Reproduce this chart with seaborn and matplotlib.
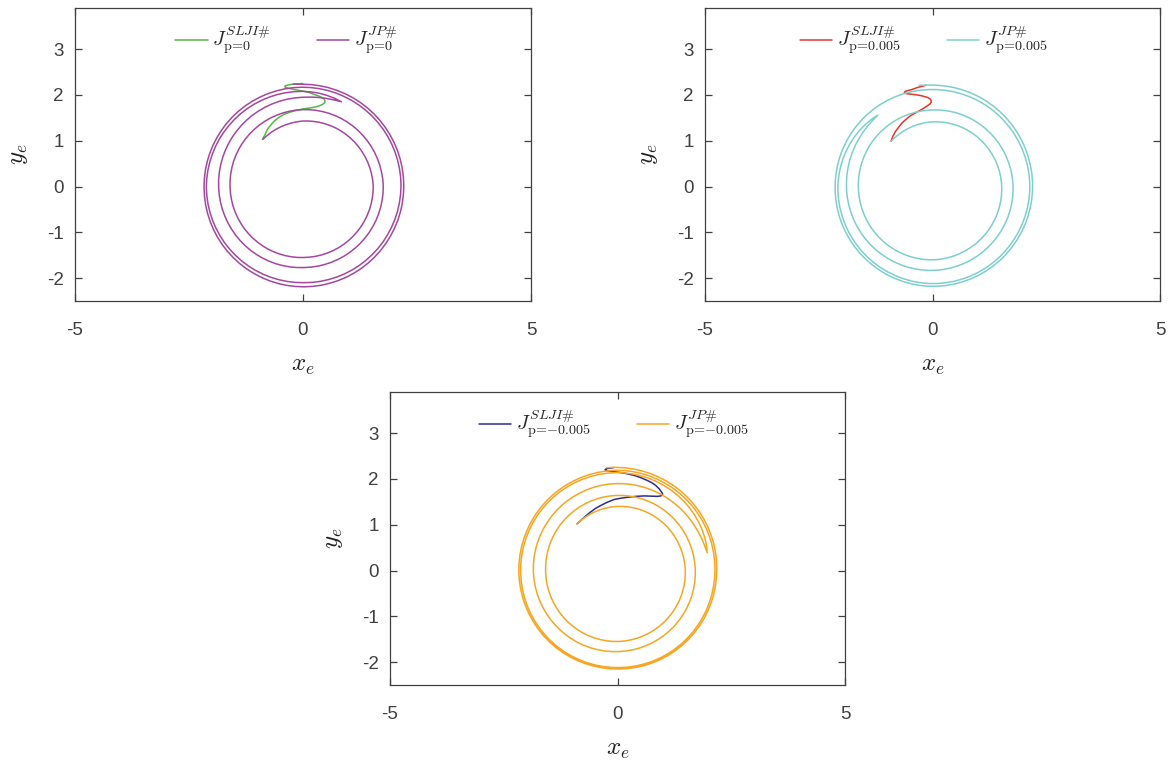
import numpy as np
import pandas as pd
import matplotlib
matplotlib.use("Agg")
import matplotlib.pyplot as plt
import seaborn as sns

# ---------------- data ----------------
# JP# spirals in polar form: radius sampled every 5 degrees of angle,
# clockwise from the start angle, then counter-clockwise after the cusp.
ANGLE_STEP = 5.0

# p = 0
jp0_theta_start = 130.5
jp0_r_cw = [
    1.355, 1.364, 1.374, 1.383, 1.393, 1.402, 1.411, 1.421, 1.430,
    1.436, 1.442, 1.448, 1.454, 1.461, 1.467, 1.473, 1.479, 1.485, 1.491, 1.497, 1.503, 1.509, 1.516, 1.522, 1.528, 1.534, 1.540,
    1.541, 1.541, 1.542, 1.542, 1.543, 1.543, 1.544, 1.544, 1.545, 1.546, 1.546, 1.547, 1.547, 1.548, 1.548, 1.549, 1.549, 1.550,
    1.553, 1.556, 1.558, 1.561, 1.564, 1.567, 1.569, 1.572, 1.575, 1.578, 1.581, 1.583, 1.586, 1.589, 1.592, 1.594, 1.597, 1.600,
    1.604, 1.609, 1.613, 1.618, 1.622, 1.627, 1.631, 1.636, 1.640, 1.644, 1.649, 1.653, 1.658, 1.662, 1.667, 1.671, 1.676, 1.680,
    1.684, 1.689, 1.693, 1.698, 1.702, 1.707, 1.711, 1.716, 1.720, 1.724, 1.729, 1.733, 1.738, 1.742, 1.747, 1.751, 1.756, 1.760,
    1.761, 1.761, 1.762, 1.762, 1.763, 1.763, 1.764, 1.764, 1.765, 1.766, 1.766, 1.767, 1.767, 1.768, 1.768, 1.769, 1.769, 1.770,
    1.774, 1.779, 1.783, 1.788, 1.792, 1.797, 1.801, 1.806, 1.810, 1.814, 1.819, 1.823, 1.828, 1.832, 1.837, 1.841, 1.846, 1.850,
    1.856, 1.861, 1.867, 1.872, 1.878, 1.883, 1.889, 1.894, 1.900, 1.906, 1.911, 1.917, 1.922, 1.928, 1.933, 1.939, 1.944, 1.950,
    1.960, 1.975, 1.990, 2.010, 2.035]
jp0_r_ccw = [
    2.050, 2.060, 2.070, 2.075, 2.080,
    2.082, 2.084, 2.087, 2.089, 2.091, 2.093, 2.096, 2.098, 2.100, 2.102, 2.104, 2.107, 2.109, 2.111, 2.113, 2.116, 2.118, 2.120,
    2.119, 2.118, 2.117, 2.116, 2.114, 2.113, 2.112, 2.111, 2.110, 2.109, 2.108, 2.107, 2.106, 2.104, 2.103, 2.102, 2.101, 2.100,
    2.103, 2.106, 2.108, 2.111, 2.114, 2.117, 2.119, 2.122, 2.125, 2.128, 2.131, 2.133, 2.136, 2.139, 2.142, 2.144, 2.147, 2.150,
    2.151, 2.152, 2.153, 2.154, 2.156, 2.157, 2.158, 2.159, 2.160, 2.161, 2.162, 2.163, 2.164, 2.166, 2.167, 2.168, 2.169, 2.170,
    2.170, 2.170, 2.170, 2.170, 2.170, 2.170, 2.170, 2.170, 2.170, 2.170, 2.170, 2.170, 2.170, 2.170, 2.170, 2.170, 2.170, 2.170,
    2.171, 2.172, 2.173, 2.174, 2.176, 2.177, 2.178, 2.179, 2.180, 2.181, 2.182, 2.183, 2.184, 2.186, 2.187, 2.188, 2.189, 2.190,
    2.191, 2.192, 2.193, 2.194, 2.196, 2.197, 2.198, 2.199, 2.200, 2.201, 2.202, 2.203, 2.204, 2.206, 2.207, 2.208, 2.209, 2.210,
    2.211, 2.213, 2.214, 2.216, 2.217, 2.218, 2.220, 2.221, 2.223, 2.224, 2.225, 2.227, 2.228, 2.229, 2.231, 2.232, 2.234, 2.235,
    2.250]

# p = 0.005
jpp_theta_start = 132.6
jpp_r_cw = [
    1.345, 1.353, 1.361, 1.369, 1.377, 1.386, 1.394, 1.402, 1.410,
    1.416, 1.422, 1.428, 1.434, 1.441, 1.447, 1.453, 1.459, 1.465, 1.471, 1.477, 1.483, 1.489, 1.496, 1.502, 1.508, 1.514, 1.520,
    1.524, 1.529, 1.533, 1.538, 1.542, 1.547, 1.551, 1.556, 1.560, 1.564, 1.569, 1.573, 1.578, 1.582, 1.587, 1.591, 1.596, 1.600,
    1.602, 1.603, 1.605, 1.607, 1.608, 1.610, 1.612, 1.613, 1.615, 1.617, 1.618, 1.620, 1.622, 1.623, 1.625, 1.627, 1.628, 1.630,
    1.632, 1.634, 1.637, 1.639, 1.641, 1.643, 1.646, 1.648, 1.650, 1.652, 1.654, 1.657, 1.659, 1.661, 1.663, 1.666, 1.668, 1.670,
    1.676, 1.681, 1.687, 1.692, 1.698, 1.703, 1.709, 1.714, 1.720, 1.726, 1.731, 1.737, 1.742, 1.748, 1.753, 1.759, 1.764, 1.770,
    1.773, 1.777, 1.780, 1.783, 1.787, 1.790, 1.793, 1.797, 1.800, 1.803, 1.807, 1.810, 1.813, 1.817, 1.820, 1.823, 1.827, 1.830,
    1.833, 1.837, 1.840, 1.843, 1.847, 1.850, 1.853, 1.857, 1.860, 1.863, 1.867, 1.870, 1.873, 1.877, 1.880, 1.883, 1.887, 1.890,
    1.893, 1.897, 1.902, 1.907, 1.913, 1.919, 1.926, 1.934, 1.943, 1.953, 1.970]
jpp_r_ccw = [
    1.990, 2.005, 2.018, 2.030, 2.040, 2.050, 2.058, 2.065, 2.072, 2.078,
    2.082, 2.084, 2.087, 2.089, 2.091, 2.093, 2.096, 2.098, 2.100, 2.102, 2.104, 2.107, 2.109, 2.111, 2.113, 2.116, 2.118, 2.120,
    2.121, 2.122, 2.123, 2.124, 2.126, 2.127, 2.128, 2.129, 2.130, 2.131, 2.132, 2.133, 2.134, 2.136, 2.137, 2.138, 2.139, 2.140,
    2.139, 2.138, 2.137, 2.136, 2.134, 2.133, 2.132, 2.131, 2.130, 2.129, 2.128, 2.127, 2.126, 2.124, 2.123, 2.122, 2.121, 2.120,
    2.121, 2.122, 2.123, 2.124, 2.126, 2.127, 2.128, 2.129, 2.130, 2.131, 2.132, 2.133, 2.134, 2.136, 2.137, 2.138, 2.139, 2.140,
    2.142, 2.144, 2.147, 2.149, 2.151, 2.153, 2.156, 2.158, 2.160, 2.162, 2.164, 2.167, 2.169, 2.171, 2.173, 2.176, 2.178, 2.180,
    2.181, 2.182, 2.183, 2.184, 2.186, 2.187, 2.188, 2.189, 2.190, 2.191, 2.192, 2.193, 2.194, 2.196, 2.197, 2.198, 2.199, 2.200,
    2.201, 2.202, 2.202, 2.203, 2.204, 2.205, 2.206, 2.207, 2.207, 2.208, 2.209, 2.210, 2.211, 2.212, 2.212, 2.213, 2.214, 2.215,
    2.220, 2.230]

# p = -0.005
jpm_theta_start = 131.1
jpm_r_cw = [
    1.354, 1.360, 1.365, 1.371, 1.377, 1.383, 1.389, 1.394, 1.400,
    1.405, 1.410, 1.415, 1.420, 1.425, 1.430, 1.435, 1.440, 1.445, 1.450, 1.455, 1.460, 1.465, 1.470, 1.475, 1.480, 1.485, 1.490,
    1.493, 1.497, 1.500, 1.503, 1.507, 1.510, 1.513, 1.517, 1.520, 1.523, 1.527, 1.530, 1.533, 1.537, 1.540, 1.543, 1.547, 1.550,
    1.552, 1.553, 1.555, 1.557, 1.558, 1.560, 1.562, 1.563, 1.565, 1.567, 1.568, 1.570, 1.572, 1.573, 1.575, 1.577, 1.578, 1.580,
    1.583, 1.587, 1.590, 1.593, 1.597, 1.600, 1.603, 1.607, 1.610, 1.613, 1.617, 1.620, 1.623, 1.627, 1.630, 1.633, 1.637, 1.640,
    1.644, 1.648, 1.652, 1.656, 1.659, 1.663, 1.667, 1.671, 1.675, 1.679, 1.683, 1.687, 1.691, 1.694, 1.698, 1.702, 1.706, 1.710,
    1.713, 1.717, 1.720, 1.723, 1.727, 1.730, 1.733, 1.737, 1.740, 1.743, 1.747, 1.750, 1.753, 1.757, 1.760, 1.763, 1.767, 1.770,
    1.774, 1.779, 1.783, 1.788, 1.792, 1.797, 1.801, 1.806, 1.810, 1.814, 1.819, 1.823, 1.828, 1.832, 1.837, 1.841, 1.846, 1.850,
    1.853, 1.856, 1.858, 1.861, 1.864, 1.867, 1.869, 1.872, 1.875, 1.878, 1.881, 1.883, 1.886, 1.889, 1.892, 1.894, 1.897, 1.900,
    1.902, 1.905, 1.908, 1.911, 1.915, 1.919, 1.923, 1.928, 1.934, 1.940, 1.947, 1.955, 1.964, 1.976, 1.990, 2.010]
jpm_r_ccw = [
    2.035, 2.050, 2.063, 2.075, 2.085, 2.094, 2.102, 2.109, 2.115, 2.120, 2.125, 2.129, 2.133, 2.136, 2.139,
    2.139, 2.139, 2.138, 2.138, 2.137, 2.137, 2.136, 2.136, 2.135, 2.134, 2.134, 2.133, 2.133, 2.132, 2.132, 2.131, 2.131, 2.130,
    2.129, 2.129, 2.128, 2.128, 2.127, 2.127, 2.126, 2.126, 2.125, 2.124, 2.124, 2.123, 2.123, 2.122, 2.122, 2.121, 2.121, 2.120,
    2.121, 2.122, 2.123, 2.124, 2.126, 2.127, 2.128, 2.129, 2.130, 2.131, 2.132, 2.133, 2.134, 2.136, 2.137, 2.138, 2.139, 2.140,
    2.143, 2.146, 2.148, 2.151, 2.154, 2.157, 2.159, 2.162, 2.165, 2.168, 2.171, 2.173, 2.176, 2.179, 2.182, 2.184, 2.187, 2.190,
    2.189, 2.188, 2.187, 2.186, 2.184, 2.183, 2.182, 2.181, 2.180, 2.179, 2.178, 2.177, 2.176, 2.174, 2.173, 2.172, 2.171, 2.170,
    2.169, 2.168, 2.167, 2.166, 2.164, 2.163, 2.162, 2.161, 2.160, 2.159, 2.158, 2.157, 2.156, 2.154, 2.153, 2.152, 2.151, 2.150,
    2.152, 2.153, 2.155, 2.157, 2.158, 2.160, 2.162, 2.163, 2.165, 2.167, 2.168, 2.170, 2.172, 2.173, 2.175, 2.177, 2.178, 2.180,
    2.184, 2.188, 2.192, 2.196, 2.199, 2.203, 2.207, 2.211, 2.215, 2.219, 2.223, 2.227, 2.231, 2.234, 2.238, 2.242, 2.246, 2.250,
    2.255, 2.260]

# SLJI# trajectories (cartesian)
slji0_x = [-0.89, -0.83, -0.78, -0.71, -0.63, -0.53, -0.41, -0.27, -0.12, 0.03, 0.18, 0.32, 0.40,
           0.45, 0.48, 0.48, 0.46, 0.41, 0.34, 0.25, 0.14, 0.03, -0.09, -0.19, -0.29, -0.37,
           -0.40, -0.39, -0.34, -0.26, -0.13, -0.01]
slji0_y = [1.03, 1.14, 1.25, 1.34, 1.43, 1.51, 1.58, 1.63, 1.67, 1.70, 1.72, 1.75, 1.78,
           1.81, 1.84, 1.88, 1.91, 1.95, 1.98, 2.01, 2.05, 2.08, 2.10, 2.12, 2.14, 2.16,
           2.18, 2.20, 2.215, 2.23, 2.24, 2.25]
sljip_x = [-0.91, -0.87, -0.81, -0.74, -0.67, -0.58, -0.48, -0.39, -0.30, -0.21, -0.12,
           -0.06, -0.03, -0.03, -0.06, -0.12, -0.23, -0.33, -0.41, -0.50, -0.58, -0.62,
           -0.60, -0.53, -0.45, -0.34, -0.23, -0.15]
sljip_y = [0.99, 1.10, 1.21, 1.30, 1.39, 1.47, 1.55, 1.60, 1.65, 1.70, 1.76,
           1.80, 1.84, 1.88, 1.92, 1.95, 1.98, 2.00, 2.01, 2.02, 2.03, 2.05,
           2.08, 2.10, 2.12, 2.16, 2.19, 2.21]
sljim_x = [-0.89, -0.81, -0.70, -0.59, -0.48, -0.37, -0.23, -0.08, 0.07, 0.21, 0.40, 0.58,
           0.74, 0.87, 0.95, 0.99, 0.99, 0.97, 0.92, 0.84, 0.75, 0.65, 0.51, 0.36, 0.21,
           0.07, -0.05, -0.15, -0.23, -0.27, -0.27, -0.22, -0.08]
sljim_y = [1.02, 1.09, 1.19, 1.28, 1.36, 1.42, 1.49, 1.55, 1.58, 1.60, 1.62, 1.63,
           1.625, 1.62, 1.63, 1.65, 1.68, 1.71, 1.78, 1.86, 1.92, 1.97, 2.03, 2.08, 2.115,
           2.14, 2.155, 2.17, 2.18, 2.195, 2.21, 2.23, 2.25]

panel_p = ["0", "0.005", "{-}0.005"]
slji_colors = ["#52b847", "#e8332a", "#2e2b8f"]
jp_colors = ["#a4479f", "#7dcfcc", "#f6a623"]
x_ticks = [-5, 0, 5]
y_ticks = [-2, -1, 0, 1, 2, 3]

# ---------------- style ----------------
sns.set_style("ticks")
plt.rcParams["font.family"] = ["Liberation Sans", "DejaVu Sans"]
plt.rcParams["mathtext.fontset"] = "cm"
plt.rcParams["axes.unicode_minus"] = False


def spiral(theta_start, r_cw, r_ccw):
    th_cw = theta_start - ANGLE_STEP * np.arange(len(r_cw))
    th_ccw = th_cw[-1] + ANGLE_STEP * np.arange(1, len(r_ccw) + 1)
    th = np.deg2rad(np.concatenate([th_cw, th_ccw]))
    r = np.array(r_cw + r_ccw, dtype=float)
    return pd.DataFrame({"x": r * np.cos(th), "y": r * np.sin(th)})


jp_data = [spiral(jp0_theta_start, jp0_r_cw, jp0_r_ccw),
           spiral(jpp_theta_start, jpp_r_cw, jpp_r_ccw),
           spiral(jpm_theta_start, jpm_r_cw, jpm_r_ccw)]
slji_data = [pd.DataFrame({"x": slji0_x, "y": slji0_y}),
             pd.DataFrame({"x": sljip_x, "y": sljip_y}),
             pd.DataFrame({"x": sljim_x, "y": sljim_y})]

W, H = 1173, 763
fig = plt.figure(figsize=(W / 100, H / 100), dpi=100)
boxes = [(75, 8, 531, 301), (705, 8, 1160, 301), (390, 392, 845, 685)]
legend_anchor = [0.463, 0.481, 0.492]

axc = "#404040"
for i, (x0, y0, x1, y1) in enumerate(boxes):
    ax = fig.add_axes([x0 / W, 1 - y1 / H, (x1 - x0) / W, (y1 - y0) / H])
    p = panel_p[i]
    sns.lineplot(data=slji_data[i], x="x", y="y", sort=False, estimator=None,
                 color=slji_colors[i], lw=1.1, ax=ax,
                 label=r"$J^{SLJI\#}_{\mathrm{p\!=\!%s}}$" % p)
    sns.lineplot(data=jp_data[i], x="x", y="y", sort=False, estimator=None,
                 color=jp_colors[i], lw=1.1, ax=ax,
                 label=r"$J^{JP\#}_{\mathrm{p\!=\!%s}}$" % p)
    ax.set_xlim(-5, 5)
    ax.set_ylim(-2.5, 3.9)
    ax.set_xticks(x_ticks)
    ax.set_yticks(y_ticks)
    ax.set_xticklabels([str(t) for t in x_ticks])
    ax.set_yticklabels([str(t) for t in y_ticks])
    ax.tick_params(direction="in", length=5, width=0.9, top=True, right=True,
                   labelsize=13.5, colors=axc)
    ax.tick_params(axis="x", pad=15)
    ax.tick_params(axis="y", pad=8)
    for s in ax.spines.values():
        s.set_color(axc)
        s.set_linewidth(0.9)
        s.set_visible(True)
    ax.set_xlabel(r"$x_e$", fontsize=18, color="#222222", labelpad=10)
    ax.set_ylabel(r"$y_e$", fontsize=18, color="#222222", labelpad=12)
    ax.legend(loc="upper center", bbox_to_anchor=(legend_anchor[i], 1.0), ncol=2,
              frameon=False, fontsize=14.5, handlelength=1.6, handletextpad=0.22,
              columnspacing=2.3, borderaxespad=0.45)

fig.savefig("out.png", dpi=100)
